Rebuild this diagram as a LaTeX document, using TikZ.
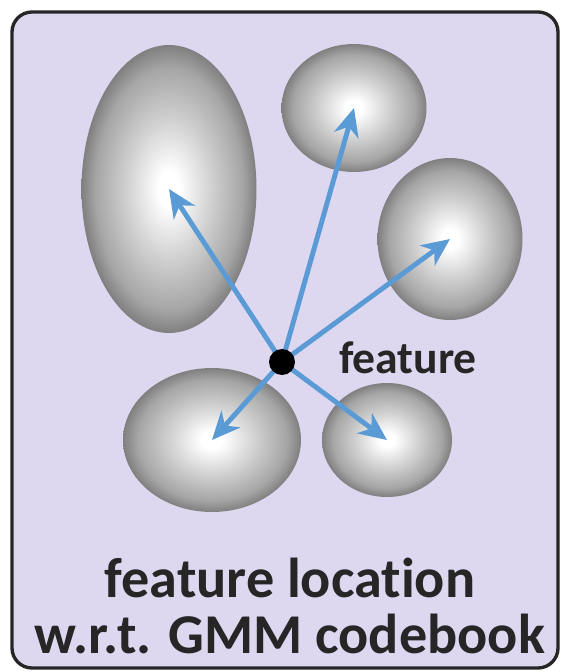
\documentclass[tikz,border=0pt]{standalone}
\usepackage{fontspec}
\setmainfont{Carlito}[Ligatures=NoCommon]
\usepackage{tikz}
\usetikzlibrary{positioning, shapes.geometric, arrows.meta}
\definecolor{panel}{RGB}{221,215,240}
\definecolor{vecblue}{RGB}{91,155,213}
\pgfdeclareradialshading{gmmball}{\pgfpoint{0bp}{0bp}}{color(0bp)=(white); color(3bp)=(white); color(12bp)=(black!18); color(21bp)=(black!35); color(25bp)=(black!50); color(50bp)=(black!50)}
\tikzset{gmm/.style={ellipse, inner sep=0pt, shading=gmmball},
  vec/.style={vecblue, line width=2.8pt, -{Stealth[length=0.56cm, width=0.5cm, inset=0.17cm]}}}

\begin{document}
\begin{tikzpicture}[x=0.02cm, y=-0.02cm, font=\bfseries]
\useasboundingbox (0,0) rectangle (562,672);
\draw[fill=panel, draw=black!85, line width=1.9pt, rounded corners=0.4cm] (12,12) rectangle (558,668);
\node[gmm, minimum width=3.5cm, minimum height=5.76cm] (g1) at (169,189) {};
\node[gmm, minimum width=2.9cm, minimum height=2.56cm] (g2) at (354,108) {};
\node[gmm, minimum width=2.9cm, minimum height=3.24cm] (g3) at (450,239) {};
\node[gmm, minimum width=3.56cm, minimum height=2.88cm] (g4) at (212,440) {};
\node[gmm, minimum width=2.6cm, minimum height=2.28cm] (g5) at (387,440) {};
\coordinate (src) at (282,362);
\foreach \g in {g1,g2,g3,g4,g5}
  \draw[vec] (src) -- (\g.center);
\node[circle, fill=black, inner sep=0pt, minimum size=0.52cm] (feat) at (src) {};
\node[anchor=base, text=black!85, font=\bfseries\fontsize{26}{26}\selectfont] (featlbl) at (408,373) {feature};
\node[anchor=base, text=black!85, font=\bfseries\fontsize{32}{32}\selectfont] (cap1) at (290,597) {feature location};
\node[anchor=base, text=black!85, font=\bfseries\fontsize{32}{32}\selectfont] (cap2) at (290,653) {w.r.t. GMM codebook};
\end{tikzpicture}
\end{document}
